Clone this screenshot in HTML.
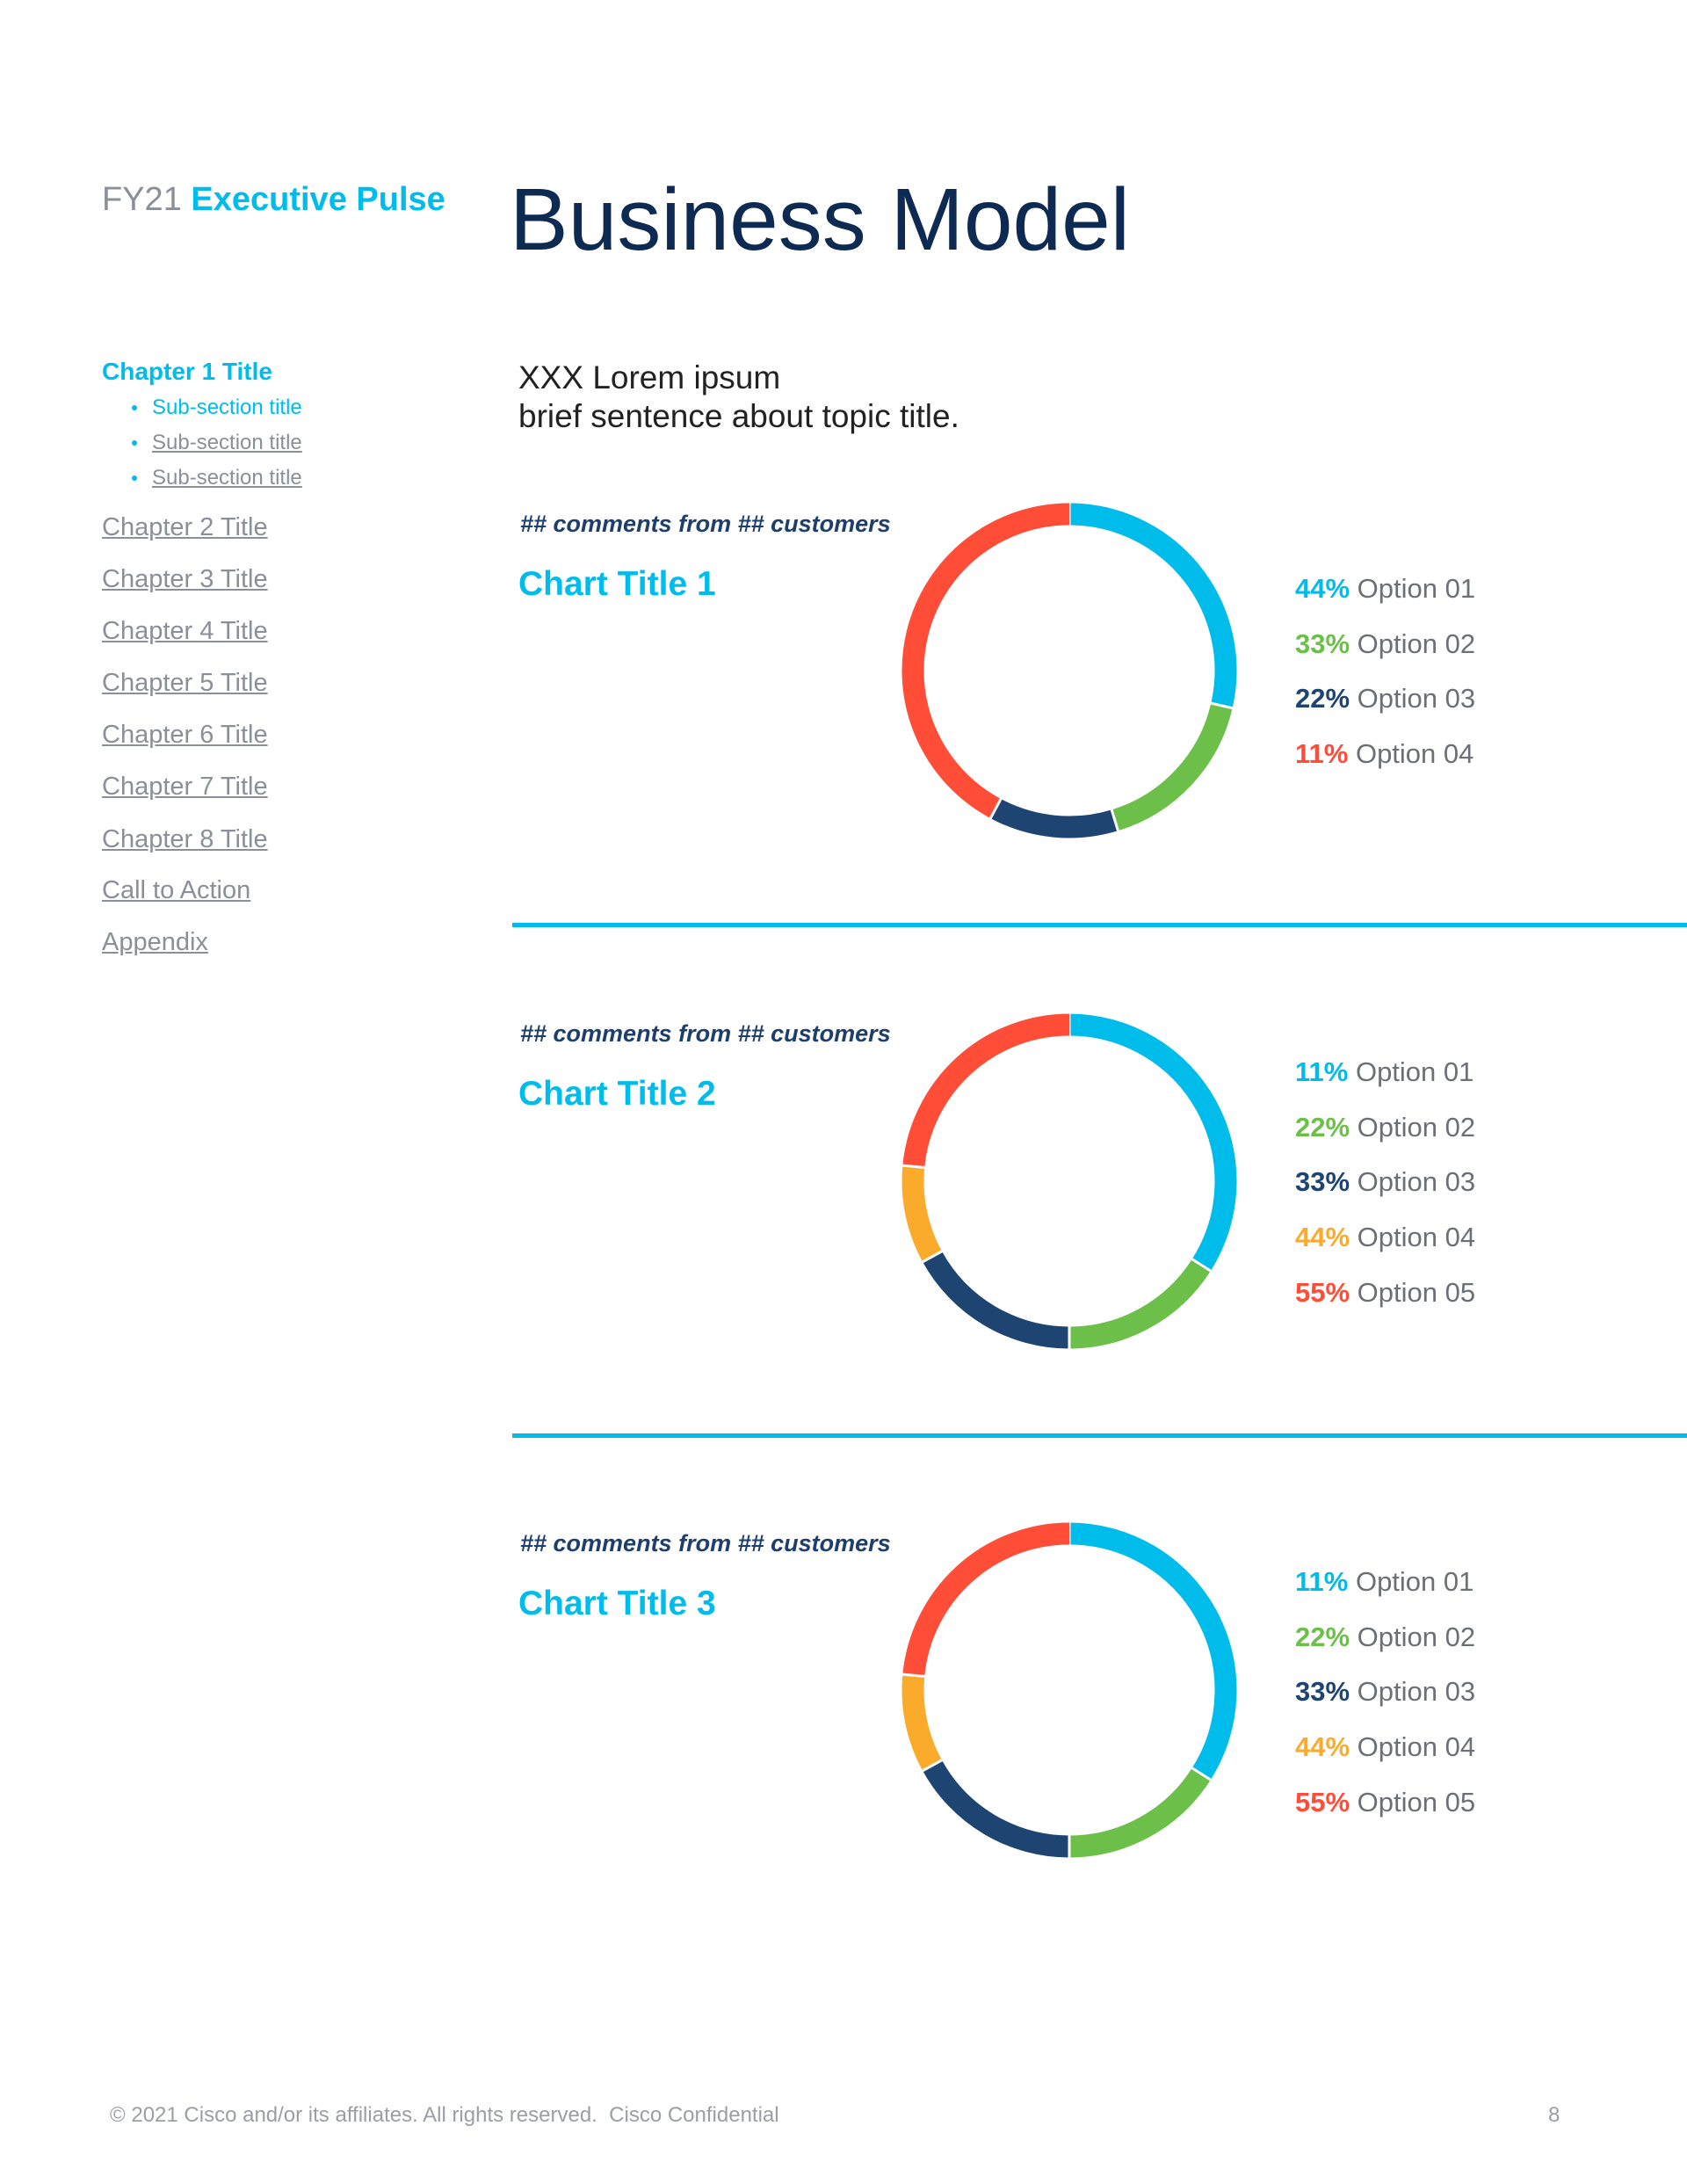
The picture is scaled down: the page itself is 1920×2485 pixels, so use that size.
<!DOCTYPE html>
<html><head><meta charset="utf-8">
<style>
body{margin:0;width:1920px;height:2485px;background:#fff;position:relative;overflow:hidden;font-family:"Liberation Sans",sans-serif}
.t{position:absolute;white-space:nowrap;line-height:1}
.nav{color:#8a8f99;text-decoration:underline;font-size:29px;left:116px}
.sub{color:#8a8f99;text-decoration:underline;font-size:24px;left:173px}
.bul{position:absolute;left:150px;width:6px;height:6px;border-radius:50%;background:#00bceb}
.cm{color:#1e3f6b;font-style:italic;font-weight:bold;font-size:27px;left:592px}
.ct{color:#00bceb;font-weight:bold;font-size:39px;left:590px}
.lg{font-size:31px;color:#6b6f76;left:1474px}
.lg b{font-weight:bold}
.rule{position:absolute;left:583px;width:1337px;height:5px;background:#00bceb}
</style></head><body>
<div class="t" style="left:116px;top:208px;font-size:38px;color:#8a8f99">FY21 <b style="color:#00bceb">Executive Pulse</b></div>
<div class="t" style="left:580px;top:200px;font-size:100px;color:#0d2a52">Business Model</div>

<div class="t" style="left:116px;top:409px;font-size:28px;font-weight:bold;color:#00bceb">Chapter 1 Title</div>
<div class="bul" style="top:461px"></div>
<div class="t sub" style="top:452px;color:#00bceb;text-decoration:none">Sub-section title</div>
<div class="bul" style="top:501px"></div>
<div class="t sub" style="top:492px">Sub-section title</div>
<div class="bul" style="top:541px"></div>
<div class="t sub" style="top:532px">Sub-section title</div>
<div class="t nav" style="top:586px">Chapter 2 Title</div>
<div class="t nav" style="top:645px">Chapter 3 Title</div>
<div class="t nav" style="top:704px">Chapter 4 Title</div>
<div class="t nav" style="top:763px">Chapter 5 Title</div>
<div class="t nav" style="top:822px">Chapter 6 Title</div>
<div class="t nav" style="top:881px">Chapter 7 Title</div>
<div class="t nav" style="top:941px">Chapter 8 Title</div>
<div class="t nav" style="top:999px">Call to Action</div>
<div class="t nav" style="top:1058px">Appendix</div>

<div class="t" style="left:590px;top:408px;font-size:37px;color:#222;line-height:44px">XXX Lorem ipsum<br>brief sentence about topic title.</div>

<div class="t cm" style="top:583px">## comments from ## customers</div>
<div class="t ct" style="top:645px">Chart Title 1</div>
<div class="rule" style="top:1050px"></div>
<div class="t cm" style="top:1163px">## comments from ## customers</div>
<div class="t ct" style="top:1225px">Chart Title 2</div>
<div class="rule" style="top:1631px"></div>
<div class="t cm" style="top:1743px">## comments from ## customers</div>
<div class="t ct" style="top:1805px">Chart Title 3</div>

<svg id="charts" width="1920" height="2485" style="position:absolute;left:0;top:0"></svg>
<div id="legends"></div>

<div class="t" style="left:125px;top:2395px;font-size:24px;color:#9a9ea5">© 2021 Cisco and/or its affiliates. All rights reserved.&nbsp; Cisco Confidential</div>
<div class="t" style="left:1762px;top:2395px;font-size:24px;color:#9a9ea5">8</div>

<script>
const colors = ["#00bceb","#6cc04a","#1e4471","#fbab2c","#ff4d38"];
const chart1Arcs = [28.6, 16.7, 12.5, 42.2];
const chart1ArcColors = [0,1,2,4];
const chart1Labels = ["Option 01","Option 02","Option 03","Option 04"];
const chart1Pcts = ["44%","33%","22%","11%"];
const chart2Arcs = [34, 16, 17, 9.5, 23.5];
const chart2Labels = ["Option 01","Option 02","Option 03","Option 04","Option 05"];
const chart2Pcts = ["11%","22%","33%","44%","55%"];
const chart3Arcs = [34, 16, 17, 9.5, 23.5];
const chart3Labels = ["Option 01","Option 02","Option 03","Option 04","Option 05"];
const chart3Pcts = ["11%","22%","33%","44%","55%"];

const NS="http://www.w3.org/2000/svg";
const svg=document.getElementById('charts');
const leg=document.getElementById('legends');
function pt(cx,cy,r,a){const t=a*2*Math.PI-Math.PI/2;return [cx+r*Math.cos(t),cy+r*Math.sin(t)];}
function donut(idx,cx,cy,arcs,cidx,labels,pcts,legTop){
  const R=178, W=25;
  const total=arcs.reduce((a,b)=>a+b,0);
  let acc=0;
  arcs.forEach((v,i)=>{
    const a0=acc/total,a1=(acc+v)/total;acc+=v;
    const [x0,y0]=pt(cx,cy,R,a0),[x1,y1]=pt(cx,cy,R,a1);
    const p=document.createElementNS(NS,'path');
    p.setAttribute('d',`M${x0} ${y0} A${R} ${R} 0 ${a1-a0>0.5?1:0} 1 ${x1} ${y1}`);
    p.setAttribute('fill','none');
    p.setAttribute('stroke',colors[cidx[i]]);
    p.setAttribute('stroke-width',W);
    
    
    svg.appendChild(p);
    const [sx,sy]=pt(cx,cy,R-W/2-1,a0),[ex,ey]=pt(cx,cy,R+W/2+1,a0);
    const l=document.createElementNS(NS,'line');
    l.setAttribute('x1',sx);l.setAttribute('y1',sy);l.setAttribute('x2',ex);l.setAttribute('y2',ey);
    l.setAttribute('stroke','#fff');l.setAttribute('stroke-width','3');
    
    
    svg.appendChild(l);
  });
  labels.forEach((lab,i)=>{
    const d=document.createElement('div');
    d.className='t lg';
    d.style.top=(legTop+i*62.7)+'px';
    d.innerHTML='<b style="color:'+colors[i<cidx.length?(labels.length===4?cidx[i]:i):i]+'">'+pcts[i]+'</b> '+lab;
    
    
    leg.appendChild(d);
  });
}
donut(1,1217,763,chart1Arcs,chart1ArcColors,chart1Labels,chart1Pcts,654);
donut(2,1217,1344,chart2Arcs,[0,1,2,3,4],chart2Labels,chart2Pcts,1204);
donut(3,1217,1923,chart3Arcs,[0,1,2,3,4],chart3Labels,chart3Pcts,1784);
</script>
</body></html>
